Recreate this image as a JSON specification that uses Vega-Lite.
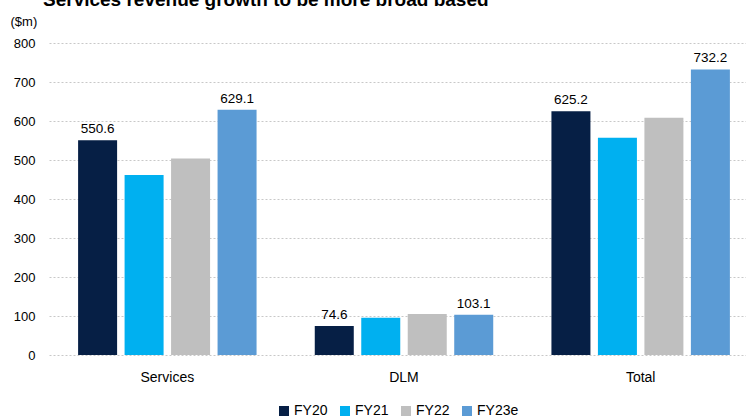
{
  "$schema": "https://vega.github.io/schema/vega-lite/v6.json",
  "autosize": "none",
  "padding": {"left": 49, "top": 43, "right": 0, "bottom": 64},
  "width": 697,
  "height": 312,
  "title": {"text": "Services revenue growth to be more broad based", "anchor": "start", "frame": "group", "dx": -6, "offset": 5, "fontSize": 19, "fontWeight": "bold", "font": "Liberation Sans", "color": "#000000"},
  "config": {"font": "Liberation Sans", "view": {"stroke": null}, "legend": {"layout": {"bottom": {"anchor": "middle"}}}},
  "data": {"values": [
    {"segment": "Services", "year": "FY20", "value": 550.6, "label": "550.6"},
    {"segment": "Services", "year": "FY21", "value": 461.5, "label": ""},
    {"segment": "Services", "year": "FY22", "value": 504, "label": ""},
    {"segment": "Services", "year": "FY23e", "value": 629.1, "label": "629.1"},
    {"segment": "DLM", "year": "FY20", "value": 74.6, "label": "74.6"},
    {"segment": "DLM", "year": "FY21", "value": 95.7, "label": ""},
    {"segment": "DLM", "year": "FY22", "value": 105, "label": ""},
    {"segment": "DLM", "year": "FY23e", "value": 103.1, "label": "103.1"},
    {"segment": "Total", "year": "FY20", "value": 625.2, "label": "625.2"},
    {"segment": "Total", "year": "FY21", "value": 557, "label": ""},
    {"segment": "Total", "year": "FY22", "value": 608.5, "label": ""},
    {"segment": "Total", "year": "FY23e", "value": 732.2, "label": "732.2"}
  ]},
  "encoding": {
    "x": {"field": "segment", "type": "nominal", "sort": ["Services", "DLM", "Total"],
      "scale": {"range": [0, 710], "paddingInner": 0, "paddingOuter": 0},
      "axis": {"title": null, "labelAngle": 0, "labelFontSize": 14, "labelColor": "#000000", "ticks": false, "domain": false, "labelPadding": 15}},
    "xOffset": {"field": "year", "type": "nominal", "sort": ["FY20", "FY21", "FY22", "FY23e"],
      "scale": {"paddingInner": 0.161, "paddingOuter": 0.626}},
    "y": {"field": "value", "type": "quantitative", "scale": {"domain": [0, 800]},
      "axis": {"values": [0, 100, 200, 300, 400, 500, 600, 700, 800], "labelFontSize": 13, "labelColor": "#000000", "ticks": false, "domain": false, "labelPadding": 14,
        "grid": true, "gridColor": "#c8c8c8", "gridDash": [2, 2], "gridWidth": 1,
        "title": "($m)", "titleAngle": 0, "titleAlign": "left", "titleBaseline": "middle", "titleX": -39, "titleY": -22, "titleFontSize": 13, "titleFontWeight": "normal", "titleColor": "#000000"}}
  },
  "layer": [
    {"mark": {"type": "bar"},
      "encoding": {"color": {"field": "year", "type": "nominal", "sort": ["FY20", "FY21", "FY22", "FY23e"],
        "scale": {"domain": ["FY20", "FY21", "FY22", "FY23e"], "range": ["#061f45", "#00b0f0", "#bfbfbf", "#5b9bd5"]},
        "legend": {"orient": "bottom", "direction": "horizontal", "title": null, "symbolType": "square", "symbolSize": 100, "symbolStrokeWidth": 0, "labelFontSize": 14, "labelColor": "#000000", "columnPadding": 10, "labelOffset": 3, "offset": 20}}}},
    {"mark": {"type": "text", "baseline": "alphabetic", "dy": -7, "fontSize": 13.5, "color": "#000000"},
      "encoding": {"text": {"field": "label"}}}
  ]
}
